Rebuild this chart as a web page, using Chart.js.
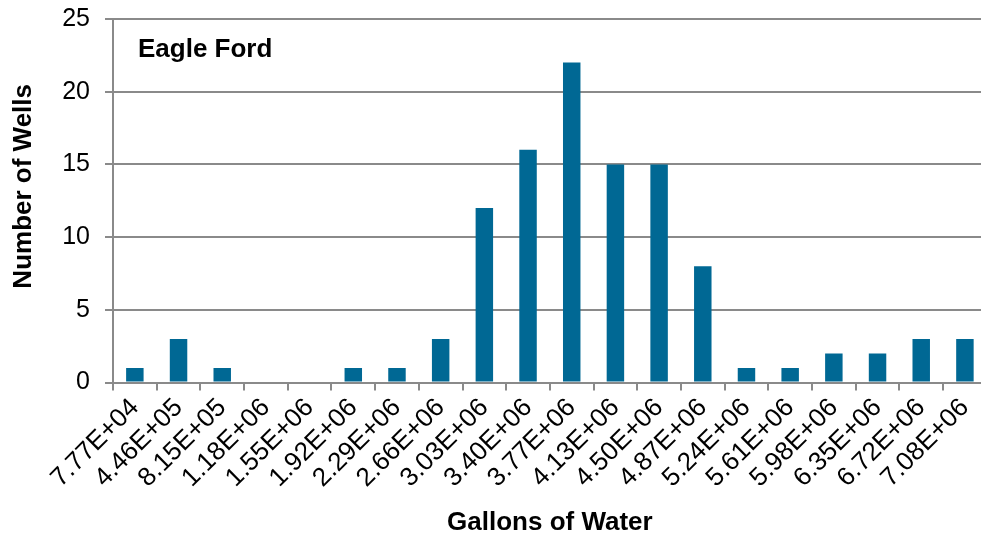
<!DOCTYPE html>
<html>
<head>
<meta charset="utf-8">
<script src="https://cdn.jsdelivr.net/npm/chart.js@4"></script>
<style>
    html, body { margin: 0; padding: 0; background: #ffffff; overflow: hidden; }
    #wrap { position: relative; width: 989px; height: 538px; }
</style>
</head>
<body>
<div id="wrap"><canvas id="chartPozos"></canvas></div>
<script>
// Datos del histograma
const categorias = ['7.77E+04', '4.46E+05', '8.15E+05', '1.18E+06', '1.55E+06', '1.92E+06', '2.29E+06',
    '2.66E+06', '3.03E+06', '3.40E+06', '3.77E+06', '4.13E+06', '4.50E+06', '4.87E+06',
    '5.24E+06', '5.61E+06', '5.98E+06', '6.35E+06', '6.72E+06', '7.08E+06'];
const numeroPozos = [1, 3, 1, 0, 0, 1, 1, 3, 12, 16, 22, 15, 15, 8, 1, 1, 2, 2, 3, 3];
const ticksY = [0, 5, 10, 15, 20, 25];
const etiquetaRegion = 'Eagle Ford';

const colorGris = '#8a8a8a';
const fuente = "'Liberation Sans', Arial, sans-serif";

// Texto "Eagle Ford" dentro del área del gráfico
const pluginRegion = {
    id: 'pluginRegion',
    afterDraw(chart) {
        const ctx = chart.ctx;
        const area = chart.chartArea;
        ctx.save();
        ctx.font = 'bold 26px ' + fuente;
        ctx.fillStyle = '#000000';
        ctx.textBaseline = 'alphabetic';
        ctx.fillText(etiquetaRegion, area.left + 25, area.top + 38);
        ctx.restore();
    }
};

// Quitar el relleno superior que agrega la etiqueta del eje
function sinRellenoVertical(escala) {
    escala.paddingTop = 0;
    escala.paddingBottom = 0;
}

document.addEventListener('DOMContentLoaded', function() {
    const ctx = document.getElementById('chartPozos');
    new Chart(ctx, {
        type: 'bar',
        data: {
            labels: categorias,
            datasets: [{
                data: numeroPozos,
                backgroundColor: '#006894',
                borderWidth: 0,
                barPercentage: 0.40,
                categoryPercentage: 1.0
            }]
        },
        options: {
            responsive: true,
            maintainAspectRatio: false,
            animation: false,
            layout: {
                padding: { left: 0, top: 19, right: 1, bottom: 0 }
            },
            plugins: {
                legend: { display: false },
                tooltip: { enabled: false }
            },
            scales: {
                x: {
                    afterFit: sinRellenoVertical,
                    grid: {
                        drawOnChartArea: false,
                        drawTicks: true,
                        tickLength: 8,
                        color: colorGris,
                        lineWidth: 2
                    },
                    border: { color: colorGris, width: 2 },
                    ticks: {
                        color: '#000000',
                        font: { family: fuente, size: 26 },
                        minRotation: 45,
                        maxRotation: 45,
                        autoSkip: false,
                        padding: 2
                    },
                    title: {
                        display: true,
                        text: 'Gallons of Water',
                        color: '#000000',
                        font: { family: fuente, size: 26, weight: 'bold' },
                        padding: { top: 11, bottom: 0 }
                    }
                },
                y: {
                    min: 0,
                    max: 25,
                    afterFit: sinRellenoVertical,
                    afterBuildTicks: function(escala) {
                        escala.ticks = ticksY.map(v => ({ value: v }));
                    },
                    grid: {
                        color: colorGris,
                        lineWidth: 2,
                        drawTicks: true,
                        tickLength: 8
                    },
                    border: { color: colorGris, width: 2 },
                    ticks: {
                        color: '#000000',
                        font: { family: fuente, size: 25 },
                        padding: 15
                    },
                    title: {
                        display: true,
                        // espacios iniciales para subir el título como en el original
                        text: '    Number of Wells',
                        color: '#000000',
                        font: { family: fuente, size: 26, weight: 'bold' },
                        padding: { top: 8, bottom: 8 }
                    }
                }
            }
        },
        plugins: [pluginRegion]
    });
});
</script>
</body>
</html>
